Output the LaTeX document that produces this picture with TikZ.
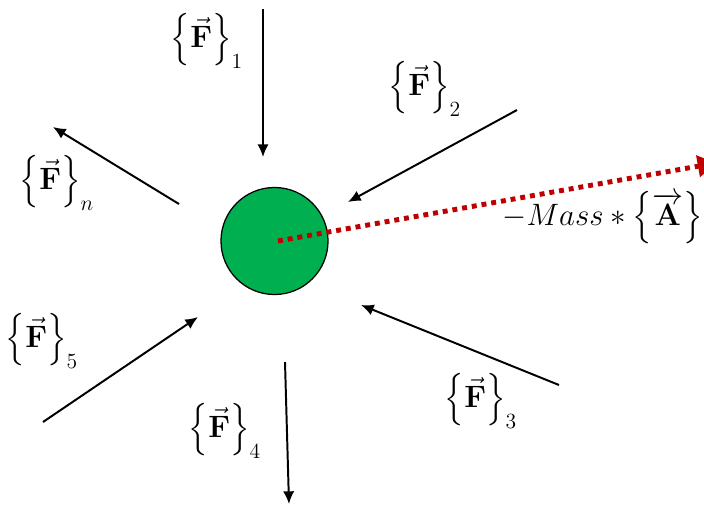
\RequirePackage{fix-cm}
\documentclass[tikz,border=0pt]{standalone}
\usepackage{amsmath}
\usepackage{tikz}
\usetikzlibrary{arrows.meta}
\definecolor{massgreen}{HTML}{00B050}
\definecolor{inertiared}{HTML}{C00000}
\tikzstyle{mass} = [circle, draw=black, line width=0.9pt, fill=massgreen, minimum size=2.675cm, inner sep=0pt]
\tikzstyle{force} = [line width=1.4pt, -{Latex[length=9pt, width=8pt]}, color=black]
\tikzstyle{inertia} = [line width=3.5pt, dash pattern=on 3.5pt off 3.5pt, -{Triangle[length=13pt, width=15pt]}, color=inertiared]
\tikzstyle{flabel} = [font=\fontsize{22}{26}\selectfont, inner sep=0pt]
\newcommand{\forcevec}[1]{$\Bigl\{\vec{\mathbf{F}}\Bigr\}_{#1}$}

\begin{document}
\begin{tikzpicture}[x=0.025cm, y=-0.025cm]
    \useasboundingbox (0,0) rectangle (704,508);
    \node[mass] (body) at (274.5,241) {};

    \coordinate (f1s) at (263,9);    \coordinate (f1e) at (263,157);
    \coordinate (f2s) at (517,110);  \coordinate (f2e) at (348,202);
    \coordinate (f3s) at (559,385);  \coordinate (f3e) at (361,305);
    \coordinate (f4s) at (285,362);  \coordinate (f4e) at (289,504);
    \coordinate (f5s) at (43,422);   \coordinate (f5e) at (198,317);
    \coordinate (fns) at (179,204);  \coordinate (fne) at (53,127);
    \coordinate (accs) at (278,241); \coordinate (acce) at (716,163);

    \node[flabel] (l1) at (207,40) {\forcevec{1}};
    \node[flabel] (l2) at (425,88) {\forcevec{2}};
    \node[flabel] (l3) at (481,400) {\forcevec{3}};
    \node[flabel] (l4) at (225,430) {\forcevec{4}};
    \node[flabel] (l5) at (42,340) {\forcevec{5}};
    \node[flabel] (ln) at (57,182) {\forcevec{n}};
    \node[flabel, anchor=east] (lacc) at (703,218) {$-Mass*\Bigl\{\overrightarrow{\mathbf{A}}\Bigr\}$};

    \draw[force] (f1s) -- (f1e);
    \draw[force] (f2s) -- (f2e);
    \draw[force] (f3s) -- (f3e);
    \draw[force] (f4s) -- (f4e);
    \draw[force] (f5s) -- (f5e);
    \draw[force] (fns) -- (fne);
    \draw[inertia] (accs) -- (acce);
\end{tikzpicture}
\end{document}
